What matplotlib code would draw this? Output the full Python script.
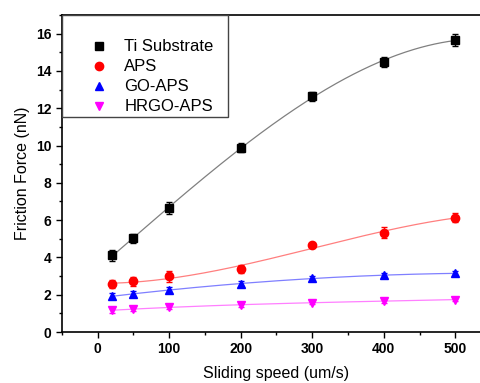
import numpy as np
import matplotlib
matplotlib.use("Agg")
import matplotlib.pyplot as plt
from matplotlib.ticker import MultipleLocator
from matplotlib.lines import Line2D
from matplotlib.patches import Rectangle

plt.rcParams['font.family'] = ['Liberation Sans', 'DejaVu Sans']

# sliding speed (um/s)
speed = [20, 50, 100, 200, 300, 400, 500]

# friction force (nN) and error bars
ti = [4.12, 5.02, 6.65, 9.88, 12.64, 14.48, 15.66]
ti_err = [0.3, 0.25, 0.3, 0.25, 0.25, 0.25, 0.3]
aps = [2.56, 2.72, 2.98, 3.36, 4.67, 5.33, 6.13]
aps_err = [0.22, 0.25, 0.28, 0.22, 0.12, 0.3, 0.25]
go = [1.92, 2.05, 2.25, 2.6, 2.88, 3.04, 3.15]
go_err = [0.15, 0.15, 0.15, 0.12, 0.12, 0.12, 0.12]
hrgo = [1.16, 1.24, 1.33, 1.45, 1.58, 1.66, 1.74]
hrgo_err = [0.15, 0.12, 0.12, 0.1, 0.1, 0.1, 0.1]

series = [
    ("Ti Substrate", ti, ti_err, 's', 'black', '#808080'),
    ("APS", aps, aps_err, 'o', 'red', '#ff7f7f'),
    ("GO-APS", go, go_err, '^', 'blue', '#7f7fff'),
    ("HRGO-APS", hrgo, hrgo_err, 'v', 'magenta', '#ff7fff'),
]

fig = plt.figure(figsize=(4.8, 3.83), dpi=100)
ax = fig.add_axes([0.129, 0.133, 0.894, 0.828])

xs = np.linspace(speed[0], speed[-1], 200)
handles = []
for name, y, err, mk, col, lcol in series:
    # smooth fit line through the points
    coef = np.polyfit(speed, y, 3)
    ax.plot(xs, np.polyval(coef, xs), color=lcol, lw=0.9, zorder=1)
    ax.errorbar(speed, y, yerr=err, fmt=mk, color=col, ms=6, elinewidth=1,
                capsize=2.5, capthick=1, zorder=2)
    handles.append(Line2D([], [], ls='none', marker=mk, color=col, ms=6, label=name))

ax.set_xlim(-50, 550)
ax.set_ylim(0, 17)
ax.xaxis.set_major_locator(MultipleLocator(100))
ax.xaxis.set_minor_locator(MultipleLocator(50))
ax.yaxis.set_major_locator(MultipleLocator(2))
ax.yaxis.set_minor_locator(MultipleLocator(1))
ax.tick_params(which='major', direction='out', length=4, width=1, labelsize=10)
ax.tick_params(which='minor', direction='out', length=2.5, width=1)
for lab in ax.get_xticklabels() + ax.get_yticklabels():
    lab.set_fontweight('bold')
for sp in ax.spines.values():
    sp.set_linewidth(1.2)

ax.set_xlabel("Sliding speed (um/s)", fontsize=11.5, labelpad=7)
ax.set_ylabel("Friction Force (nN)", fontsize=11.5, labelpad=4)

# legend box drawn by hand (Origin style, more room on top than at bottom)
ax.add_patch(Rectangle((0, 0.678), 0.387, 0.322, transform=ax.transAxes,
                       facecolor='white', edgecolor='#444444', lw=1.0, zorder=3))
leg = ax.legend(handles=handles, loc='upper left', borderaxespad=0, frameon=False,
                fontsize=12, handletextpad=0.0, borderpad=0.75, labelspacing=0.3,
                handlelength=3.0, title=' ', title_fontsize=5)
leg.set_zorder(4)

fig.savefig("out.png", dpi=100)
